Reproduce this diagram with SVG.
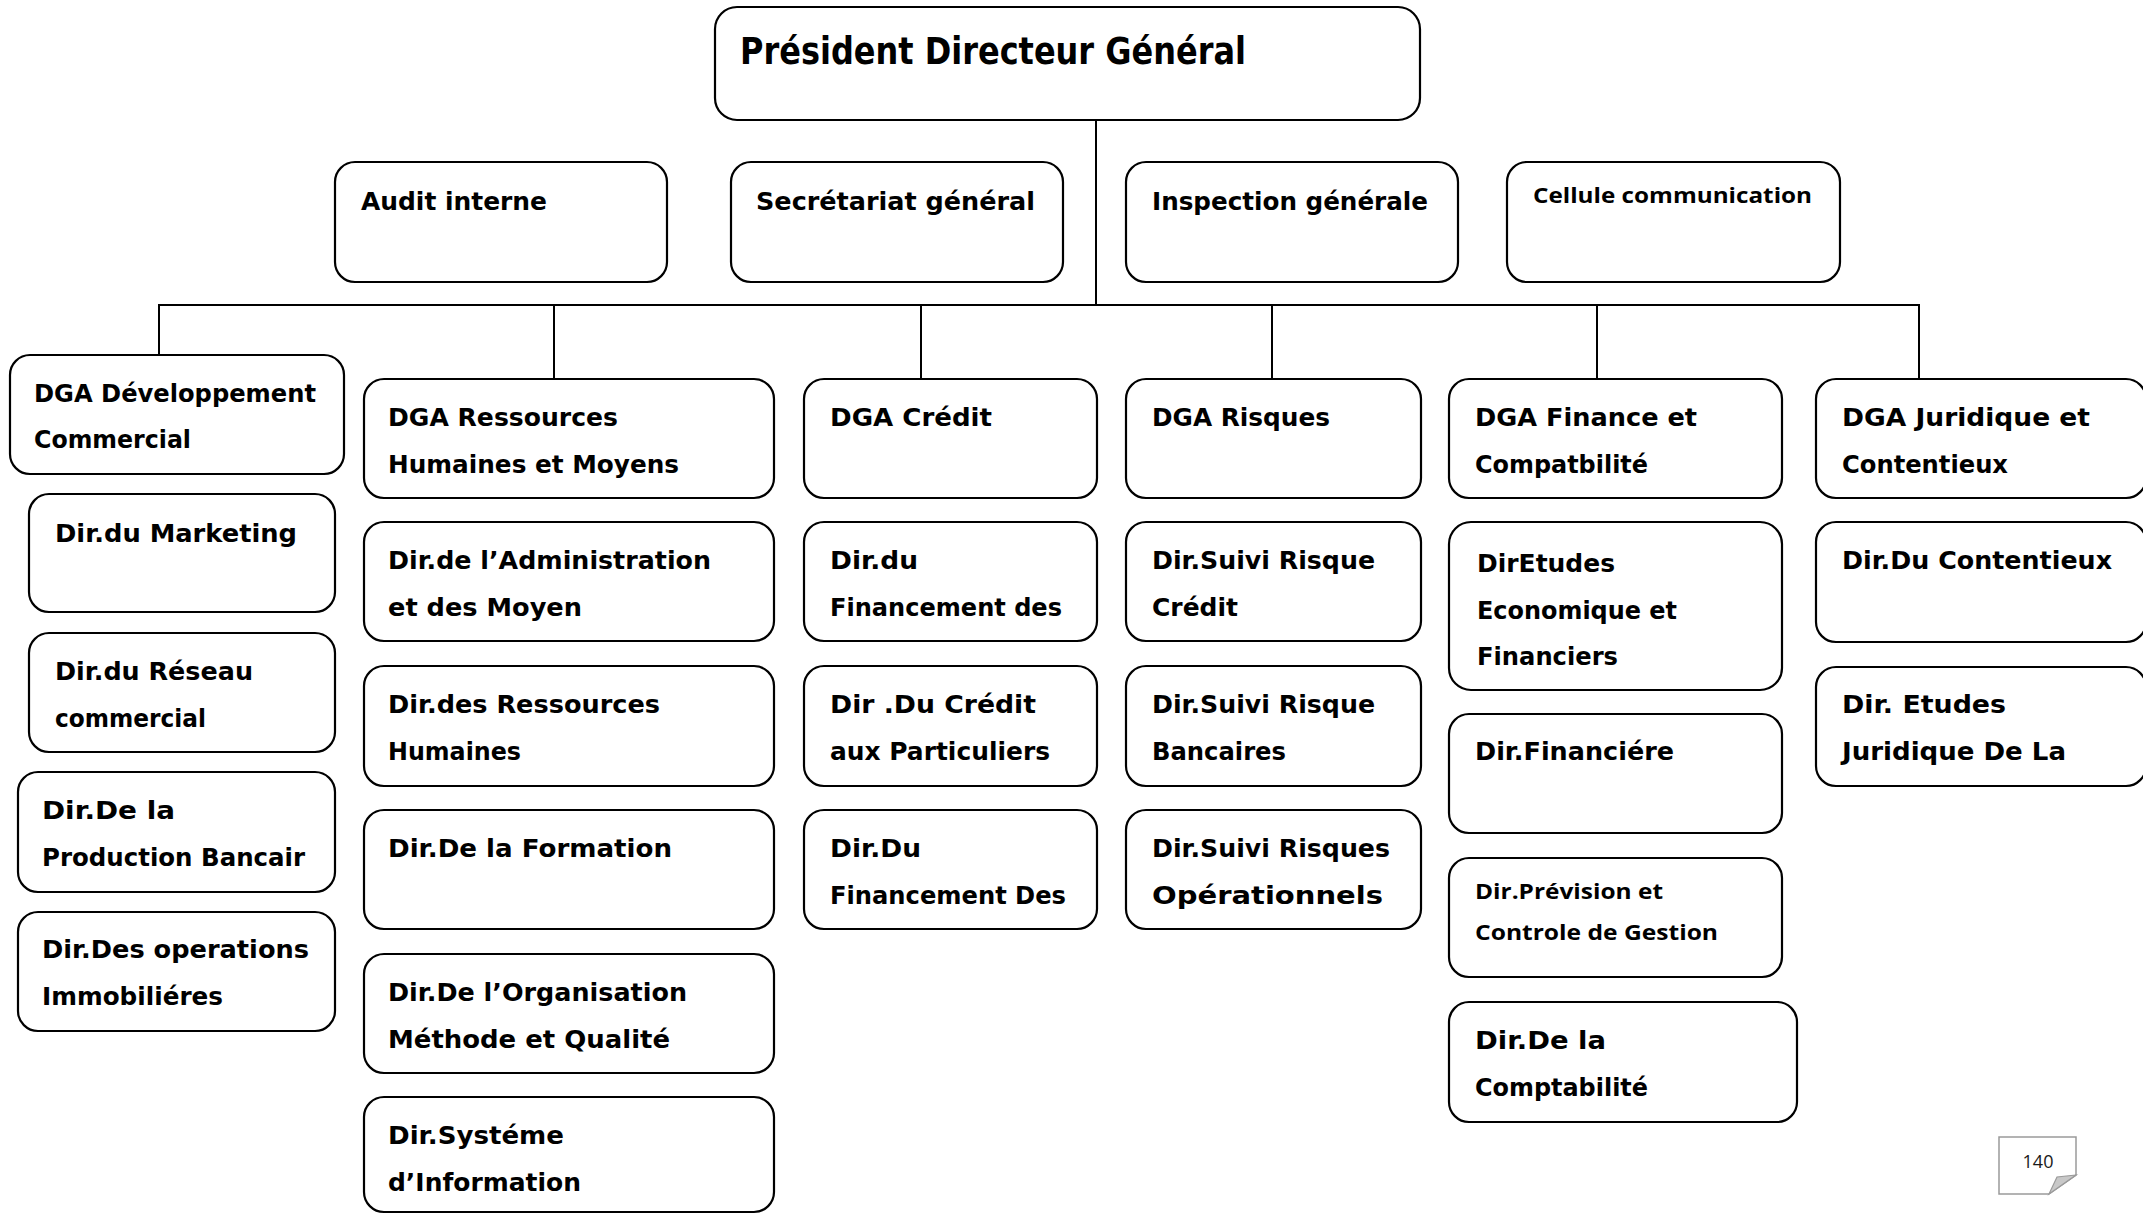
<svg xmlns="http://www.w3.org/2000/svg" width="2143" height="1214" viewBox="0 0 2143 1214">
  <style>
    .box { fill: #ffffff; stroke: #000000; stroke-width: 2.2; }
    .t { font-family: "DejaVu Sans", "Liberation Sans", sans-serif; font-weight: bold; font-size: 25px; fill: #000000; }
    .big { font-size: 37px; }
    .c { font-family: "Open Sans", "Liberation Sans", sans-serif; font-weight: bold; font-size: 22px; fill: #000000; }
    .link { stroke: #000000; stroke-width: 2; fill: none; }
    .page { fill: #ffffff; stroke: #9a9a9a; stroke-width: 1.5; }
    .num { font-family: "Open Sans", "Liberation Sans", sans-serif; font-size: 18px; fill: #1a1a1a; }
  </style>
  <rect width="2143" height="1214" fill="#ffffff"/>

  <!-- connectors -->
  <g id="connectors">
    <line class="link" x1="1096" y1="120" x2="1096" y2="305"/>
    <line class="link" x1="158" y1="305" x2="1920" y2="305"/>
    <line class="link" x1="159" y1="305" x2="159" y2="355"/>
    <line class="link" x1="554" y1="305" x2="554" y2="379"/>
    <line class="link" x1="921" y1="305" x2="921" y2="379"/>
    <line class="link" x1="1272" y1="305" x2="1272" y2="379"/>
    <line class="link" x1="1597" y1="305" x2="1597" y2="379"/>
    <line class="link" x1="1919" y1="305" x2="1919" y2="379"/>
  </g>

  <!-- top -->
  <g id="pdg">
    <rect class="box" x="715" y="7" width="705" height="113" rx="22"/>
    <text class="t big" x="740" y="64" textLength="506" lengthAdjust="spacingAndGlyphs">Président Directeur Général</text>
  </g>

  <!-- staff units -->
  <g id="audit">
    <rect class="box" x="335" y="162" width="332" height="120" rx="20"/>
    <text class="t" x="361" y="210" textLength="186" lengthAdjust="spacingAndGlyphs">Audit interne</text>
  </g>
  <g id="secretariat">
    <rect class="box" x="731" y="162" width="332" height="120" rx="20"/>
    <text class="t" x="756" y="210" textLength="279" lengthAdjust="spacingAndGlyphs">Secrétariat général</text>
  </g>
  <g id="inspection">
    <rect class="box" x="1126" y="162" width="332" height="120" rx="20"/>
    <text class="t" x="1152" y="210" textLength="276" lengthAdjust="spacingAndGlyphs">Inspection générale</text>
  </g>
  <g id="communication">
    <rect class="box" x="1507" y="162" width="333" height="120" rx="20"/>
    <text class="c" x="1533" y="203" textLength="279" lengthAdjust="spacingAndGlyphs">Cellule communication</text>
  </g>

  <!-- DGA Développement Commercial -->
  <g id="dga-dev">
    <rect class="box" x="10" y="355" width="334" height="119" rx="20"/>
    <text class="t" x="34" y="402" textLength="282" lengthAdjust="spacingAndGlyphs">DGA Développement</text>
    <text class="t" x="34" y="448" textLength="157" lengthAdjust="spacingAndGlyphs">Commercial</text>
  </g>
  <g id="dir-marketing">
    <rect class="box" x="29" y="494" width="306" height="118" rx="20"/>
    <text class="t" x="55" y="542" textLength="242" lengthAdjust="spacingAndGlyphs">Dir.du Marketing</text>
  </g>
  <g id="dir-reseau">
    <rect class="box" x="29" y="633" width="306" height="119" rx="20"/>
    <text class="t" x="55" y="680" textLength="198" lengthAdjust="spacingAndGlyphs">Dir.du Réseau</text>
    <text class="t" x="55" y="727" textLength="151" lengthAdjust="spacingAndGlyphs">commercial</text>
  </g>
  <g id="dir-production">
    <rect class="box" x="18" y="772" width="317" height="120" rx="20"/>
    <text class="t" x="42" y="819" textLength="133" lengthAdjust="spacingAndGlyphs">Dir.De la</text>
    <text class="t" x="42" y="866" textLength="263" lengthAdjust="spacingAndGlyphs">Production Bancair</text>
  </g>
  <g id="dir-immobilier">
    <rect class="box" x="18" y="912" width="317" height="119" rx="20"/>
    <text class="t" x="42" y="958" textLength="267" lengthAdjust="spacingAndGlyphs">Dir.Des operations</text>
    <text class="t" x="42" y="1005" textLength="181" lengthAdjust="spacingAndGlyphs">Immobiliéres</text>
  </g>

  <!-- DGA Ressources Humaines et Moyens -->
  <g id="dga-rh">
    <rect class="box" x="364" y="379" width="410" height="119" rx="20"/>
    <text class="t" x="388" y="426" textLength="230" lengthAdjust="spacingAndGlyphs">DGA Ressources</text>
    <text class="t" x="388" y="473" textLength="291" lengthAdjust="spacingAndGlyphs">Humaines et Moyens</text>
  </g>
  <g id="dir-administration">
    <rect class="box" x="364" y="522" width="410" height="119" rx="20"/>
    <text class="t" x="388" y="569" textLength="323" lengthAdjust="spacingAndGlyphs">Dir.de l’Administration</text>
    <text class="t" x="388" y="616" textLength="194" lengthAdjust="spacingAndGlyphs">et des Moyen</text>
  </g>
  <g id="dir-ressources-humaines">
    <rect class="box" x="364" y="666" width="410" height="120" rx="20"/>
    <text class="t" x="388" y="713" textLength="272" lengthAdjust="spacingAndGlyphs">Dir.des Ressources</text>
    <text class="t" x="388" y="760" textLength="133" lengthAdjust="spacingAndGlyphs">Humaines</text>
  </g>
  <g id="dir-formation">
    <rect class="box" x="364" y="810" width="410" height="119" rx="20"/>
    <text class="t" x="388" y="857" textLength="284" lengthAdjust="spacingAndGlyphs">Dir.De la Formation</text>
  </g>
  <g id="dir-organisation">
    <rect class="box" x="364" y="954" width="410" height="119" rx="20"/>
    <text class="t" x="388" y="1001" textLength="299" lengthAdjust="spacingAndGlyphs">Dir.De l’Organisation</text>
    <text class="t" x="388" y="1048" textLength="282" lengthAdjust="spacingAndGlyphs">Méthode et Qualité</text>
  </g>
  <g id="dir-systeme-information">
    <rect class="box" x="364" y="1097" width="410" height="115" rx="20"/>
    <text class="t" x="388" y="1144" textLength="176" lengthAdjust="spacingAndGlyphs">Dir.Systéme</text>
    <text class="t" x="388" y="1191" textLength="193" lengthAdjust="spacingAndGlyphs">d’Information</text>
  </g>

  <!-- DGA Crédit -->
  <g id="dga-credit">
    <rect class="box" x="804" y="379" width="293" height="119" rx="20"/>
    <text class="t" x="830" y="426" textLength="162" lengthAdjust="spacingAndGlyphs">DGA Crédit</text>
  </g>
  <g id="dir-financement-1">
    <rect class="box" x="804" y="522" width="293" height="119" rx="20"/>
    <text class="t" x="830" y="569" textLength="88" lengthAdjust="spacingAndGlyphs">Dir.du</text>
    <text class="t" x="830" y="616" textLength="232" lengthAdjust="spacingAndGlyphs">Financement des</text>
  </g>
  <g id="dir-credit-particuliers">
    <rect class="box" x="804" y="666" width="293" height="120" rx="20"/>
    <text class="t" x="830" y="713" textLength="206" lengthAdjust="spacingAndGlyphs">Dir .Du Crédit</text>
    <text class="t" x="830" y="760" textLength="220" lengthAdjust="spacingAndGlyphs">aux Particuliers</text>
  </g>
  <g id="dir-financement-2">
    <rect class="box" x="804" y="810" width="293" height="119" rx="20"/>
    <text class="t" x="830" y="857" textLength="91" lengthAdjust="spacingAndGlyphs">Dir.Du</text>
    <text class="t" x="830" y="904" textLength="236" lengthAdjust="spacingAndGlyphs">Financement Des</text>
  </g>

  <!-- DGA Risques -->
  <g id="dga-risques">
    <rect class="box" x="1126" y="379" width="295" height="119" rx="20"/>
    <text class="t" x="1152" y="426" textLength="178" lengthAdjust="spacingAndGlyphs">DGA Risques</text>
  </g>
  <g id="dir-risque-credit">
    <rect class="box" x="1126" y="522" width="295" height="119" rx="20"/>
    <text class="t" x="1152" y="569" textLength="223" lengthAdjust="spacingAndGlyphs">Dir.Suivi Risque</text>
    <text class="t" x="1152" y="616" textLength="86" lengthAdjust="spacingAndGlyphs">Crédit</text>
  </g>
  <g id="dir-risque-bancaires">
    <rect class="box" x="1126" y="666" width="295" height="120" rx="20"/>
    <text class="t" x="1152" y="713" textLength="223" lengthAdjust="spacingAndGlyphs">Dir.Suivi Risque</text>
    <text class="t" x="1152" y="760" textLength="134" lengthAdjust="spacingAndGlyphs">Bancaires</text>
  </g>
  <g id="dir-risques-operationnels">
    <rect class="box" x="1126" y="810" width="295" height="119" rx="20"/>
    <text class="t" x="1152" y="857" textLength="238" lengthAdjust="spacingAndGlyphs">Dir.Suivi Risques</text>
    <text class="t" x="1152" y="904" textLength="231" lengthAdjust="spacingAndGlyphs">Opérationnels</text>
  </g>

  <!-- DGA Finance et Comptabilité -->
  <g id="dga-finance">
    <rect class="box" x="1449" y="379" width="333" height="119" rx="20"/>
    <text class="t" x="1475" y="426" textLength="222" lengthAdjust="spacingAndGlyphs">DGA Finance et</text>
    <text class="t" x="1475" y="473" textLength="173" lengthAdjust="spacingAndGlyphs">Compatbilité</text>
  </g>
  <g id="dir-etudes-economiques">
    <rect class="box" x="1449" y="522" width="333" height="168" rx="22"/>
    <text class="t" x="1477" y="572" textLength="138" lengthAdjust="spacingAndGlyphs">DirEtudes</text>
    <text class="t" x="1477" y="619" textLength="200" lengthAdjust="spacingAndGlyphs">Economique et</text>
    <text class="t" x="1477" y="665" textLength="141" lengthAdjust="spacingAndGlyphs">Financiers</text>
  </g>
  <g id="dir-financiere">
    <rect class="box" x="1449" y="714" width="333" height="119" rx="20"/>
    <text class="t" x="1475" y="760" textLength="199" lengthAdjust="spacingAndGlyphs">Dir.Financiére</text>
  </g>
  <g id="dir-prevision">
    <rect class="box" x="1449" y="858" width="333" height="119" rx="20"/>
    <text class="c" x="1475" y="899" textLength="188" lengthAdjust="spacingAndGlyphs">Dir.Prévision et</text>
    <text class="c" x="1475" y="940" textLength="243" lengthAdjust="spacingAndGlyphs">Controle de Gestion</text>
  </g>
  <g id="dir-comptabilite">
    <rect class="box" x="1449" y="1002" width="348" height="120" rx="20"/>
    <text class="t" x="1475" y="1049" textLength="131" lengthAdjust="spacingAndGlyphs">Dir.De la</text>
    <text class="t" x="1475" y="1096" textLength="173" lengthAdjust="spacingAndGlyphs">Comptabilité</text>
  </g>

  <!-- DGA Juridique et Contentieux -->
  <g id="dga-juridique">
    <rect class="box" x="1816" y="379" width="330" height="119" rx="20"/>
    <text class="t" x="1842" y="426" textLength="248" lengthAdjust="spacingAndGlyphs">DGA Juridique et</text>
    <text class="t" x="1842" y="473" textLength="166" lengthAdjust="spacingAndGlyphs">Contentieux</text>
  </g>
  <g id="dir-contentieux">
    <rect class="box" x="1816" y="522" width="330" height="120" rx="20"/>
    <text class="t" x="1842" y="569" textLength="270" lengthAdjust="spacingAndGlyphs">Dir.Du Contentieux</text>
  </g>
  <g id="dir-etudes-juridiques">
    <rect class="box" x="1816" y="667" width="330" height="119" rx="20"/>
    <text class="t" x="1842" y="713" textLength="164" lengthAdjust="spacingAndGlyphs">Dir. Etudes</text>
    <text class="t" x="1842" y="760" textLength="224" lengthAdjust="spacingAndGlyphs">Juridique De La</text>
  </g>

  <!-- page number tab with folded corner -->
  <g id="page-number">
    <path class="page" d="M1999,1137 H2076 V1175 L2049,1194 H1999 Z"/>
    <path d="M2049,1194 L2057,1177 L2076,1175 Z" fill="#c8c8c8" stroke="#9a9a9a" stroke-width="1.2"/>
    <text class="num" x="2038" y="1168" text-anchor="middle">140</text>
  </g>
</svg>
